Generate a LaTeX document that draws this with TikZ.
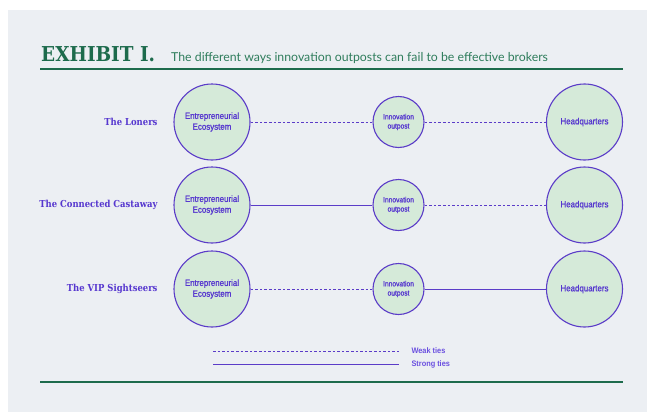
\documentclass[tikz,border=0pt]{standalone}
\usepackage{fontspec}
\setmainfont{Liberation Sans}
\newfontfamily\slabfont[FakeStretch=0.9]{DejaVu Serif}
\newfontfamily\rowfont[FakeStretch=0.88]{DejaVu Serif}
\newfontfamily\circfont[FakeStretch=0.88, FakeBold=1.2]{Liberation Sans}
\newfontfamily\legfont[FakeStretch=0.92]{Liberation Sans}
\newfontfamily\thinfont{Lato}
\definecolor{panel}{HTML}{ECEFF3}
\definecolor{exgreen}{HTML}{1D6B4C}
\definecolor{subgreen}{HTML}{2F7D5C}
\definecolor{tiepurple}{HTML}{5B3CC8}
\definecolor{labpurple}{HTML}{5637CF}
\definecolor{legpurple}{HTML}{6A4FE0}
\definecolor{cellfill}{HTML}{D5EAD9}
\tikzset{
	bigcirc/.style={circle, draw=tiepurple, fill=cellfill, line width=1.1pt, minimum size=76pt, inner sep=0pt, align=center, text=labpurple, font=\circfont\fontsize{9}{10.8}\selectfont},
	smallcirc/.style={bigcirc, minimum size=51pt, font=\circfont\fontsize{7.6}{9.2}\selectfont},
	rowlabel/.style={anchor=east, text=labpurple, font=\rowfont\bfseries\fontsize{9.6}{11}\selectfont},
	weak/.style={draw=tiepurple, line width=0.9pt, dash pattern=on 2.6pt off 2pt},
	strong/.style={draw=tiepurple, line width=1pt},
	legendlab/.style={anchor=west, text=legpurple, font=\legfont\bfseries\fontsize{8}{9}\selectfont},
	rule/.style={draw=exgreen, line width=1.5pt}
}
\begin{document}
\begin{tikzpicture}[x=1pt, y=-1pt, line join=round, line cap=butt]
	\useasboundingbox (0,0) rectangle (647,412);
	\fill[panel] (8,10) rectangle (647,412);
	% title
	\node[anchor=base west, inner sep=0pt, text=exgreen, font=\slabfont\bfseries\fontsize{20.5}{24}\selectfont] (exhibit) at (41,62) {EXHIBIT I.};
	\node[anchor=base west, inner sep=0pt, text=subgreen, font=\thinfont\fontsize{12.3}{14}\selectfont] (subtitle) at (171,62) {The different ways innovation outposts can fail to be effective brokers};
	\draw[rule] (40,69) -- (623,69);
	% the three rows
	\foreach \n/\y/\lab/\lstyle/\rstyle in {1/122/The Loners/weak/weak,2/205/The Connected Castaway/strong/weak,3/289/The VIP Sightseers/weak/strong}{
		\node[rowlabel] (row\n) at (161,\y) {\lab};
		\node[bigcirc] (eco\n) at (212,\y) {Entrepreneurial\\Ecosystem};
		\node[smallcirc] (outpost\n) at (398.5,\y) {Innovation\\outpost};
		\node[bigcirc] (hq\n) at (584.5,\y) {Headquarters};
		\draw[\lstyle] (eco\n) -- (outpost\n);
		\draw[\rstyle] (outpost\n) -- (hq\n);
	}
	% legend
	\path
	(213,351) coordinate (weakA)
	(399,351) coordinate (weakB)
	(213,364) coordinate (strongA)
	(399,364) coordinate (strongB)
	;
	\draw[weak] (weakA) -- (weakB);
	\draw[strong] (strongA) -- (strongB);
	\node[legendlab] (weaklab) at ([xshift=9pt]weakB) {Weak ties};
	\node[legendlab] (stronglab) at ([xshift=9pt]strongB) {Strong ties};
	\draw[rule] (40,382) -- (623,382);
\end{tikzpicture}
\end{document}
